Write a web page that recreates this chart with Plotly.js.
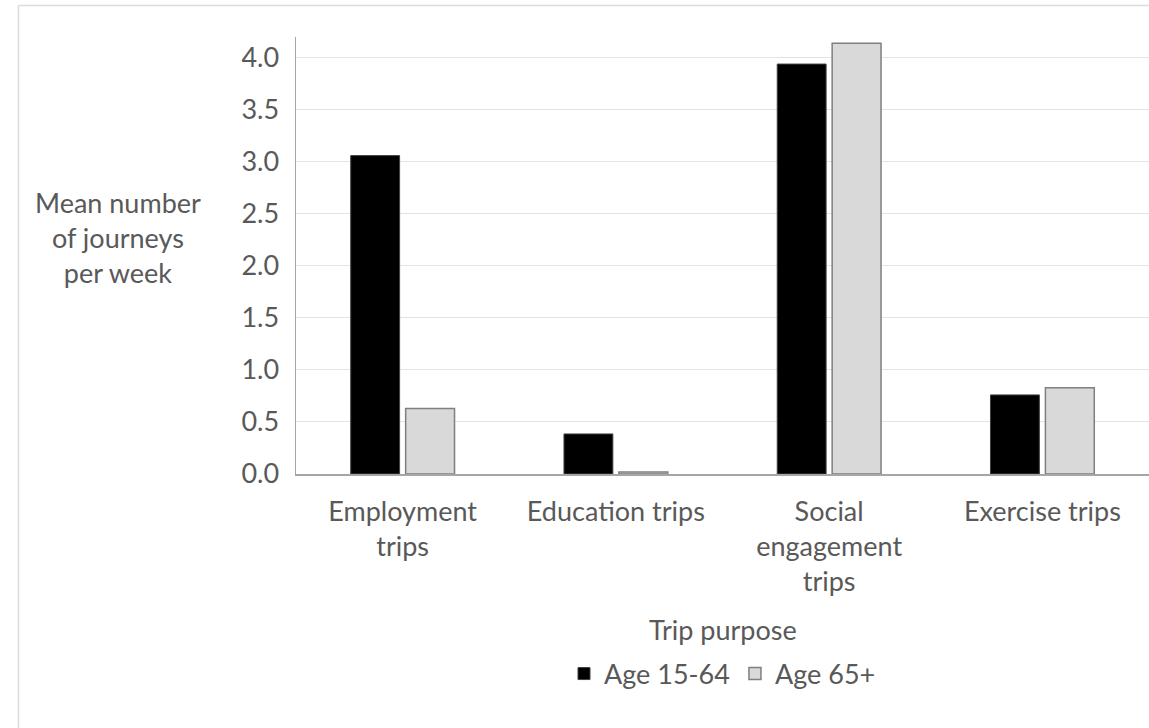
<!DOCTYPE html>
<html>
<head>
<meta charset="utf-8">
<script src="https://cdn.plot.ly/plotly-3.0.1.min.js"></script>
<style>
html,body{margin:0;padding:0;background:#fff;}
#chart{width:1149px;height:728px;}
</style>
</head>
<body>
<div id="chart"></div>
<script>
const categories = ["Employment<br>trips", "Education trips", "Social<br>engagement<br>trips", "Exercise trips"];
const seriesNames = ["Age 15-64", "Age 65+"];
const age1564 = [3.06, 0.385, 3.94, 0.76];
const age65plus = [0.63, 0.02, 4.14, 0.83];
const yTickVals = [0, 0.5, 1, 1.5, 2, 2.5, 3, 3.5, 4];
const yTickText = ["0.0", "0.5", "1.0", "1.5", "2.0", "2.5", "3.0", "3.5", "4.0"];
const yTitle = "Mean number<br>of journeys<br>per week";
const xTitle = "Trip purpose";

const FONT = "Lato, 'Open Sans', sans-serif";
const TXT = "#595959";
const FS = 27;

const traces = [
  {
    type: "bar", name: seriesNames[0], x: categories, y: age1564,
    marker: {color: "#000000", line: {color: "#404040", width: 1}},
    hoverinfo: "x+y"
  },
  {
    type: "bar", name: seriesNames[1], x: categories, y: age65plus,
    marker: {color: "#d9d9d9", line: {color: "#7f7f7f", width: 1.5}},
    hoverinfo: "x+y"
  }
];

const L = 296, R = 0, T = 37, B = 254;
const W = 1149 - L - R, H = 728 - T - B;
const px2x = p => (p - L) / W;
const py2y = p => (728 - B - p) / H;

const layout = {
  width: 1149, height: 728,
  margin: {l: L, r: R, t: T, b: B},
  paper_bgcolor: "#ffffff", plot_bgcolor: "#ffffff",
  font: {family: FONT, size: FS, color: TXT},
  barmode: "group",
  bargap: 0.485,
  bargroupgap: 0.11,
  xaxis: {
    type: "category",
    showline: true, linecolor: "#a6a6a6", linewidth: 1.5,
    showgrid: false, zeroline: false,
    ticks: "", ticklabelstandoff: 13,
    tickfont: {family: FONT, size: FS, color: TXT},
    fixedrange: true
  },
  yaxis: {
    range: [0, 4.2],
    tickvals: yTickVals, ticktext: yTickText,
    showline: true, linecolor: "#a6a6a6", linewidth: 1.5,
    showgrid: true, gridcolor: "#e3e3e3", gridwidth: 1,
    zeroline: false, ticks: "", ticklabelstandoff: 10,
    tickfont: {family: FONT, size: FS, color: TXT},
    fixedrange: true
  },
  showlegend: true,
  legend: {
    orientation: "h", x: 0.5, xanchor: "center",
    y: py2y(674), yanchor: "middle",
    font: {family: FONT, size: FS, color: TXT},
    itemwidth: 30, tracegroupgap: 0,
    bgcolor: "rgba(0,0,0,0)"
  },
  annotations: [
    {text: yTitle, xref: "paper", yref: "paper", x: px2x(118), y: py2y(237),
     xanchor: "center", yanchor: "middle", showarrow: false, align: "center",
     font: {family: FONT, size: FS, color: TXT}},
    {text: xTitle, xref: "paper", yref: "paper", x: 0.5, y: py2y(629),
     xanchor: "center", yanchor: "middle", showarrow: false,
     font: {family: FONT, size: FS, color: TXT}}
  ],
  shapes: [
    {type: "line", xref: "paper", yref: "paper", x0: px2x(18.5), x1: px2x(18.5), y0: py2y(5.5), y1: py2y(740),
     line: {color: "#dcdcdc", width: 1.5}},
    {type: "line", xref: "paper", yref: "paper", x0: px2x(18.5), x1: px2x(1160), y0: py2y(5.5), y1: py2y(5.5),
     line: {color: "#dcdcdc", width: 1.5}}
  ]
};

Plotly.newPlot("chart", traces, layout, {displayModeBar: false, staticPlot: true});
</script>
</body>
</html>
